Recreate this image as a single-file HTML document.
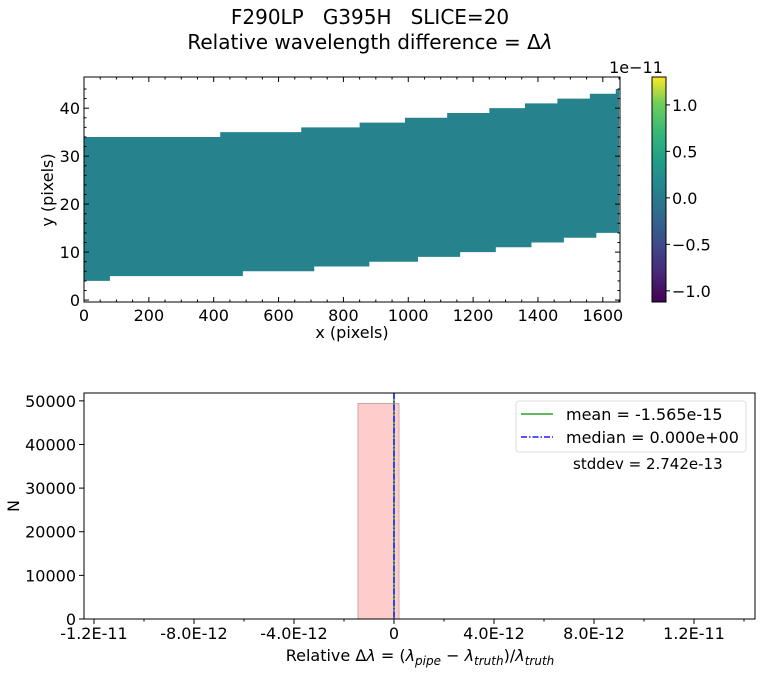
<!DOCTYPE html>
<html><head><meta charset="utf-8"><style>
body{margin:0;background:#fff}
svg text{font-family:"DejaVu Sans","Liberation Sans",sans-serif;fill:#000}
</style></head><body>
<svg width="760" height="673" viewBox="0 0 760 673" id="fig">
<defs>
<linearGradient id="vir" x1="0" y1="1" x2="0" y2="0">
<stop offset="0" stop-color="#440154"/><stop offset="0.13" stop-color="#482878"/><stop offset="0.25" stop-color="#3e4989"/><stop offset="0.38" stop-color="#31688e"/><stop offset="0.5" stop-color="#26828e"/><stop offset="0.63" stop-color="#1f9e89"/><stop offset="0.75" stop-color="#35b779"/><stop offset="0.88" stop-color="#6ece58"/><stop offset="1" stop-color="#fde725"/>
</linearGradient>
</defs>
<text x="370" y="24" font-size="20" text-anchor="middle" xml:space="preserve">F290LP   G395H   SLICE=20</text>
<text x="370" y="49" font-size="20" text-anchor="middle">Relative wavelength difference = Δ<tspan font-style="italic">λ</tspan></text>
<g id="topPanel"></g>
<g id="cbar"></g>
<g id="hist"></g>
</svg>
<script>
// ---- top panel data (slit footprint steps in pixel coords) ----
const botX = [0,80,490,710,880,1030,1160,1270,1380,1480,1580,1650];
const botY = [4,5,6,7,8,9,10,11,12,13,14];
const topX = [0,420,670,850,990,1120,1250,1360,1460,1560,1640,1650];
const topY = [34,35,36,37,38,39,40,41,42,43,44];
const xTicksTop = [0,200,400,600,800,1000,1200,1400,1600];
const yTicksTop = [0,10,20,30,40];
const cbTicks = [-1.0,-0.5,0.0,0.5,1.0];
const cbTickLabels = ["\u22121.0","\u22120.5","0.0","0.5","1.0"];
// ---- histogram data ----
const binEdges = [-1.44e-12, 0.2e-12];
const binCounts = [49400];
const meanVal = -1.565e-15;
const medianVal = 0;
const xTicksHist = [-1.2e-11,-8e-12,-4e-12,0,4e-12,8e-12,1.2e-11];
const xTickLabelsHist = ["-1.2E-11","-8.0E-12","-4.0E-12","0","4.0E-12","8.0E-12","1.2E-11"];
const yTicksHist = [0,10000,20000,30000,40000,50000];

const NS="http://www.w3.org/2000/svg";
function mk(parent,tag,attrs,text){const e=document.createElementNS(NS,tag);for(const k in attrs)e.setAttribute(k,attrs[k]);if(text!==undefined)e.textContent=text;parent.appendChild(e);return e;}

// top panel
const T={l:84,r:620,t:77,b:302,x0:0,x1:1653,y0:-0.4,y1:46.5};
const tx=v=>T.l+(v-T.x0)/(T.x1-T.x0)*(T.r-T.l);
const ty=v=>T.b-(v-T.y0)/(T.y1-T.y0)*(T.b-T.t);
const tp=document.getElementById('topPanel');
let d="M"+tx(botX[0])+","+ty(botY[0]);
for(let i=0;i<botY.length;i++){d+=" L"+tx(botX[i+1])+","+ty(botY[i]);if(i+1<botY.length)d+=" L"+tx(botX[i+1])+","+ty(botY[i+1]);}
d+=" L"+tx(topX[topX.length-1])+","+ty(topY[topY.length-1]);
for(let i=topY.length-1;i>=0;i--){d+=" L"+tx(topX[i])+","+ty(topY[i]);if(i>0)d+=" L"+tx(topX[i])+","+ty(topY[i-1]);}
d+=" Z";
const fp=mk(tp,'path',{d:d,fill:'#26838e'});


mk(tp,'rect',{x:T.l,y:T.t,width:T.r-T.l,height:T.b-T.t,fill:'none',stroke:'#000','stroke-width':1});
xTicksTop.forEach(v=>{const x=tx(v);mk(tp,'line',{x1:x,x2:x,y1:T.b,y2:T.b-5,stroke:'#000'});mk(tp,'line',{x1:x,x2:x,y1:T.t,y2:T.t+5,stroke:'#000'});
 const t=mk(tp,'text',{x:x,y:T.b+19,'font-size':16,'text-anchor':'middle'},String(v));
 
 });
for(let v=50;v<1653;v+=50){if(v%200){const x=tx(v);mk(tp,'line',{x1:x,x2:x,y1:T.b,y2:T.b-2.5,stroke:'#000'});mk(tp,'line',{x1:x,x2:x,y1:T.t,y2:T.t+2.5,stroke:'#000'});}}
yTicksTop.forEach(v=>{const y=ty(v);mk(tp,'line',{x1:T.l,x2:T.l+5,y1:y,y2:y,stroke:'#000'});mk(tp,'line',{x1:T.r,x2:T.r-5,y1:y,y2:y,stroke:'#000'});
 const t=mk(tp,'text',{x:T.l-4,y:y+6,'font-size':16,'text-anchor':'end'},String(v));
 
 });
for(let v=2;v<46;v+=2){if(v%10){const y=ty(v);mk(tp,'line',{x1:T.l,x2:T.l+2.5,y1:y,y2:y,stroke:'#000'});mk(tp,'line',{x1:T.r,x2:T.r-2.5,y1:y,y2:y,stroke:'#000'});}}
let xl=mk(tp,'text',{x:(T.l+T.r)/2,y:338,'font-size':16,'text-anchor':'middle'},'x (pixels)');


let yl=mk(tp,'text',{x:0,y:0,'font-size':16,'text-anchor':'middle',transform:'translate(53,190) rotate(-90)'},'y (pixels)');



// colorbar
const C={l:652,r:666,t:77,b:302,v0:-1.12,v1:1.3};
const cy=v=>C.b-(v-C.v0)/(C.v1-C.v0)*(C.b-C.t);
const cb=document.getElementById('cbar');
mk(cb,'rect',{x:C.l,y:C.t,width:C.r-C.l,height:C.b-C.t,fill:'url(#vir)',stroke:'#000','stroke-width':1});
cbTicks.forEach((v,i)=>{const y=cy(v);mk(cb,'line',{x1:C.r,x2:C.r+4,y1:y,y2:y,stroke:'#000'});
 const t=mk(cb,'text',{x:C.r+6,y:y+6,'font-size':16},cbTickLabels[i]);
 
 });
let ex=mk(cb,'text',{x:636,y:73,'font-size':16,'text-anchor':'middle'},'1e\u221211');



// histogram
const H={l:84,r:755,t:393,b:619,x0:-1.24e-11,x1:1.444e-11,y0:0,y1:51800};
const hx=v=>H.l+(v-H.x0)/(H.x1-H.x0)*(H.r-H.l);
const hy=v=>H.b-(v-H.y0)/(H.y1-H.y0)*(H.b-H.t);
const h=document.getElementById('hist');
binCounts.forEach((c,i)=>{const r=mk(h,'rect',{x:hx(binEdges[i]),y:hy(c),width:hx(binEdges[i+1])-hx(binEdges[i]),height:hy(0)-hy(c),fill:'#ffcccc',stroke:'#c8a8a8','stroke-width':1});
 
 });
let ml=mk(h,'line',{x1:hx(meanVal),x2:hx(meanVal),y1:H.t,y2:H.b,stroke:'#2ca02c','stroke-width':1.5});


let dl=mk(h,'line',{x1:hx(medianVal),x2:hx(medianVal),y1:H.t,y2:H.b,stroke:'#1a1aff','stroke-width':1.5,'stroke-dasharray':'6,2,1.5,2'});


mk(h,'rect',{x:H.l,y:H.t,width:H.r-H.l,height:H.b-H.t,fill:'none',stroke:'#000','stroke-width':1});
xTicksHist.forEach((v,i)=>{const x=hx(v);mk(h,'line',{x1:x,x2:x,y1:H.b,y2:H.b+5,stroke:'#000'});
 const t=mk(h,'text',{x:x,y:H.b+20,'font-size':16,'text-anchor':'middle'},xTickLabelsHist[i]);
 
 });
for(let v=-1.4e-11;v<1.44e-11;v+=2e-12){if(v>H.x0){const x=hx(v);mk(h,'line',{x1:x,x2:x,y1:H.b,y2:H.b+2.5,stroke:'#000'});}}
yTicksHist.forEach(v=>{const y=hy(v);mk(h,'line',{x1:H.l,x2:H.l-5,y1:y,y2:y,stroke:'#000'});
 const t=mk(h,'text',{x:H.l-8,y:y+6,'font-size':16,'text-anchor':'end'},String(v));
 
 });
let hxl=mk(h,'text',{x:420,y:661,'font-size':16,'text-anchor':'middle'});


hxl.innerHTML='Relative Δ<tspan font-style="italic">λ</tspan> = (<tspan font-style="italic">λ</tspan><tspan font-style="italic" font-size="12" dy="4">pipe</tspan><tspan dy="-4"> − </tspan><tspan font-style="italic">λ</tspan><tspan font-style="italic" font-size="12" dy="4">truth</tspan><tspan dy="-4">)/</tspan><tspan font-style="italic">λ</tspan><tspan font-style="italic" font-size="12" dy="4">truth</tspan>';
let hyl=mk(h,'text',{x:0,y:0,'font-size':16,'text-anchor':'middle',transform:'translate(19,506) rotate(-90)'},'N');


// legend
const lg=mk(h,'g',{});


mk(lg,'rect',{x:516,y:401,width:230,height:51,rx:3,fill:'#fff','fill-opacity':0.8,stroke:'#ddd'});
mk(lg,'line',{x1:521,x2:553,y1:414,y2:414,stroke:'#2ca02c','stroke-width':1.5});
mk(lg,'text',{x:566,y:420,'font-size':16},'mean = -1.565e-15');
mk(lg,'line',{x1:521,x2:553,y1:437,y2:437,stroke:'#1a1aff','stroke-width':1.5,'stroke-dasharray':'6,2,1.5,2'});
mk(lg,'text',{x:566,y:443,'font-size':16},'median = 0.000e+00');
let sd=mk(h,'text',{x:573,y:469,'font-size':15},'stddev = 2.742e-13');


</script>
</body></html>
